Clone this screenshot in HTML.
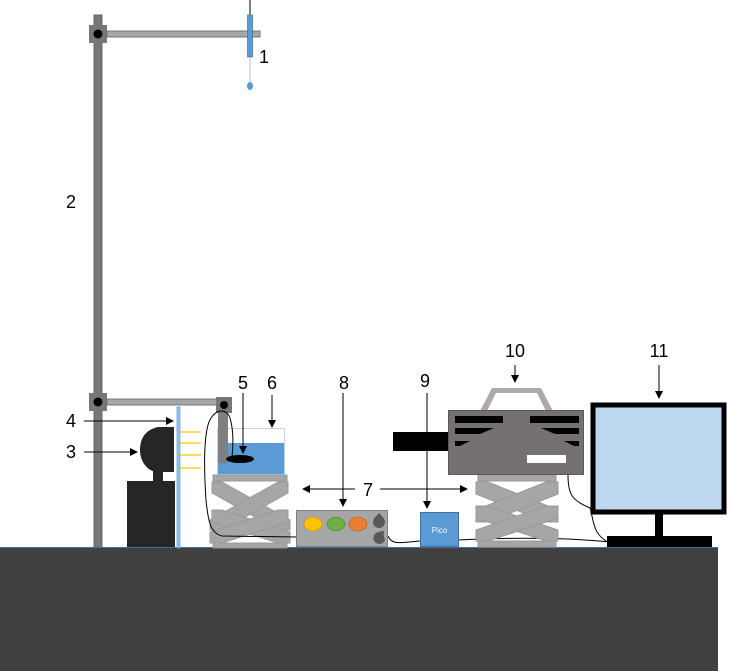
<!DOCTYPE html>
<html><head><meta charset="utf-8"><style>html,body{margin:0;padding:0;background:#fff}svg{display:block}</style></head>
<body>
<svg width="741" height="671" viewBox="0 0 741 671" xmlns="http://www.w3.org/2000/svg" font-family="Liberation Sans, sans-serif">
<defs><marker id="a" markerWidth="8" markerHeight="8" refX="7" refY="4" orient="auto" markerUnits="userSpaceOnUse"><path d="M0,0 L8,4 L0,8z" fill="#000"/></marker></defs>
<!-- table -->
<rect x="0" y="547" width="718" height="124" fill="#404040"/>
<line x1="0" y1="547.5" x2="718" y2="547.5" stroke="#41719c" stroke-width="1"/>
<!-- stand -->
<rect x="94" y="15" width="8" height="532" fill="#777" stroke="#666"/>
<rect x="107" y="31" width="153" height="6" fill="#a6a6a6" stroke="#777"/>
<rect x="89" y="25" width="18" height="18" fill="#777"/><circle cx="98" cy="34" r="4.5" fill="#000"/>
<rect x="107" y="399" width="110" height="6" fill="#a6a6a6" stroke="#777"/>
<rect x="89" y="393" width="18" height="18" fill="#777"/><circle cx="98" cy="402" r="4.5" fill="#000"/>
<!-- dropper -->
<line x1="250" y1="0" x2="250" y2="15" stroke="#000"/>
<rect x="247.5" y="15" width="5" height="42" fill="#5b9bd5" stroke="#41719c" stroke-width="0.7"/>
<line x1="250" y1="57" x2="250" y2="82" stroke="#bbb"/>
<ellipse cx="250" cy="86" rx="3" ry="4" fill="#5b9bd5"/>
<!-- beaker -->
<rect x="217.5" y="428.5" width="67" height="46" fill="#fff" stroke="#bdd7ee"/>
<rect x="218" y="443" width="66" height="31" fill="#5b9bd5"/>
<rect x="216" y="397" width="16" height="16" fill="#777"/><circle cx="224" cy="405" r="4" fill="#000"/>
<rect x="218" y="413" width="10" height="50" fill="#7f7f7f"/>
<ellipse cx="240" cy="459" rx="14" ry="4" fill="#000"/>
<!-- lift 1 -->
<g fill="#a6a6a6" stroke="#999">
<rect x="213" y="475" width="74" height="6"/><rect x="213" y="543" width="74" height="5"/>
<polygon points="212,482 222,482 290,520 290,530 278,530 212,493"/>
<polygon points="288,482 278,482 210,520 210,530 222,530 288,493"/>
<polygon points="212,510 222,510 290,532 290,543 278,543 212,522"/>
<polygon points="288,510 278,510 210,532 210,543 222,543 288,522"/>
</g>
<!-- light & camera 3 -->
<rect x="177" y="407" width="3" height="141" fill="#9dc3e6" stroke="#5b9bd5" stroke-width="0.7"/>
<g stroke="#ffc000" stroke-width="1.2"><line x1="180" y1="432" x2="201" y2="432"/><line x1="180" y1="443" x2="201" y2="443"/><line x1="180" y1="455" x2="201" y2="455"/><line x1="180" y1="468" x2="201" y2="468"/></g>
<g stroke="#fff" stroke-width="0.6"><line x1="180" y1="437" x2="201" y2="437"/><line x1="180" y1="449" x2="201" y2="449"/><line x1="180" y1="462" x2="201" y2="462"/></g>
<path d="M174,427 L158,427 C144,430 140,440 140,450 C140,462 148,472 158,472 L174,472z" fill="#262626"/>
<rect x="153" y="470" width="10" height="12" fill="#262626"/>
<rect x="127" y="481" width="48" height="66" fill="#262626"/>
<!-- cables -->
<path d="M296,537 L222,536 C210,533 208,520 206,500 C204,470 204,440 208,425 C212,410 226,406 230,418 C234,432 233,445 232,458" fill="none" stroke="#000" stroke-width="1"/>
<path d="M388,536 C392,545 398,543 420,541" fill="none" stroke="#000"/>
<path d="M458,540 C500,538 560,537 610,542" fill="none" stroke="#000"/>
<path d="M568,475 C568,495 572,500 590,508 C594,520 592,535 610,543" fill="none" stroke="#000"/>
<!-- controller -->
<rect x="296.5" y="510.5" width="91" height="36" fill="#a6a6a6" stroke="#7f7f7f"/>
<ellipse cx="313" cy="524" rx="9" ry="7" fill="#ffc000" stroke="#bf9000" stroke-width="0.6"/>
<ellipse cx="336" cy="524" rx="9" ry="7" fill="#70ad47" stroke="#507e32" stroke-width="0.6"/>
<ellipse cx="358" cy="524" rx="9" ry="7" fill="#ed7d31" stroke="#ae5a21" stroke-width="0.6"/>
<path d="M379,513 C382,516 385,519 385,522 A6,6 0 1 1 373,522 C373,519 376,516 379,513z" fill="#595959"/>
<path d="M385,531 C382,532 385,540 385,540 A6,6 0 1 1 379,532 C381,531 383,531 385,531z" fill="#595959"/>
<!-- pico -->
<rect x="420.5" y="512.5" width="38" height="34" fill="#5b9bd5" stroke="#41719c"/>
<text x="439.5" y="533" font-size="8" fill="#fff" text-anchor="middle">Pico</text>
<!-- lift 2 -->
<g fill="#a6a6a6" stroke="#999">
<rect x="478" y="475" width="78" height="6"/><rect x="478" y="541" width="78" height="6"/>
<polygon points="476,482 488,482 558,510 558,522 546,522 476,494"/>
<polygon points="558,482 546,482 476,510 476,522 488,522 558,494"/>
<polygon points="476,506 488,506 558,530 558,541 546,541 476,518"/>
<polygon points="558,506 546,506 476,530 476,541 488,541 558,518"/>
</g>
<!-- camera 10 -->
<polygon points="480,411 492,388 541,388 553,411 546,411 537,393 496,393 487,411" fill="#aeaaaa"/>
<rect x="393" y="432" width="56" height="19" fill="#000"/>
<rect x="448.5" y="410.5" width="135" height="64" fill="#767171" stroke="#595959"/>
<g fill="#000">
<rect x="455" y="416" width="48" height="7"/><rect x="530" y="416" width="49" height="7"/>
<polygon points="455,428 494,428 480,434 455,434"/><polygon points="541,428 579,428 579,434 555,434"/>
<polygon points="455,441 470,441 460,446 455,446"/><polygon points="564,441 579,441 579,446 574,446"/>
</g>
<rect x="527" y="455" width="39" height="8" fill="#fff"/>
<!-- monitor -->
<rect x="593" y="405" width="131" height="107" fill="#bdd7ee" stroke="#000" stroke-width="5"/>
<rect x="655" y="514" width="8" height="22" fill="#000"/>
<rect x="607" y="536" width="105" height="11" fill="#000"/>
<!-- arrows -->
<g stroke="#000" stroke-width="1" marker-end="url(#a)">
<line x1="84" y1="421" x2="173" y2="421"/>
<line x1="84" y1="452" x2="137" y2="452"/>
<line x1="243" y1="393" x2="243" y2="453"/>
<line x1="272" y1="395" x2="272" y2="427"/>
<line x1="355" y1="489" x2="303" y2="489"/>
<line x1="380" y1="489" x2="467" y2="489"/>
<line x1="343" y1="393" x2="343" y2="506"/>
<line x1="427" y1="393" x2="427" y2="508"/>
<line x1="515" y1="365" x2="515" y2="382"/>
<line x1="659" y1="365" x2="659" y2="398"/>
</g>
<!-- labels -->
<g font-size="18" fill="#000" text-anchor="middle">
<text x="264" y="63">1</text><text x="71" y="208">2</text><text x="71" y="458">3</text><text x="71" y="427">4</text>
<text x="243" y="389">5</text><text x="272" y="389">6</text><text x="368" y="496">7</text><text x="344" y="389">8</text>
<text x="425" y="387">9</text><text x="515" y="357">10</text><text x="659" y="357">11</text>
</g>
</svg>
</body></html>
